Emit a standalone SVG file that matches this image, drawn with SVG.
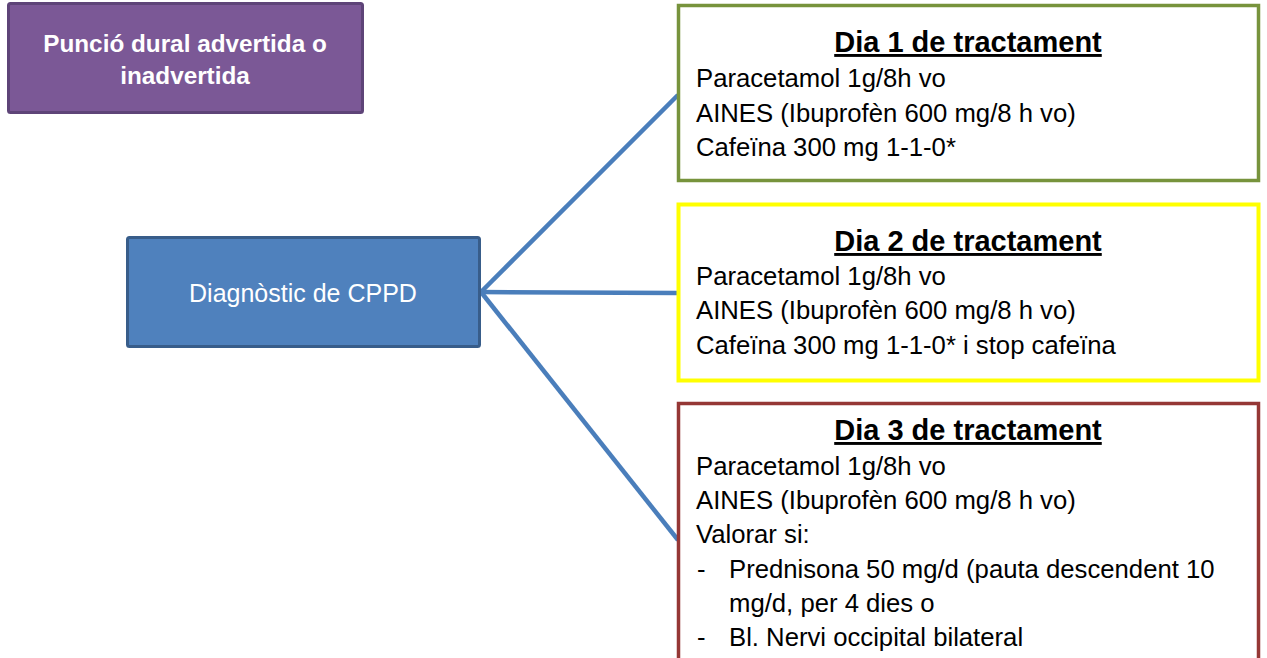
<svg xmlns="http://www.w3.org/2000/svg" width="1267" height="658" viewBox="0 0 1267 658">
  <style>
    .hdr { font-family: "Liberation Sans", Arial, sans-serif; font-weight: bold; fill: #ffffff; }
    .title { font-family: "Liberation Sans", Arial, sans-serif; font-weight: bold; font-size: 29px; fill: #000000; text-anchor: middle; text-decoration: underline; }
    .body { font-family: "Liberation Sans", Arial, sans-serif; font-size: 25.7px; fill: #000000; }
    .box { fill: #ffffff; }
    .link { stroke: #4A7EBB; stroke-width: 4.5; fill: none; }
  </style>

  <!-- connectors from the diagnosis box to each treatment day -->
  <g id="connectors">
    <line class="link" x1="481" y1="292" x2="678" y2="95"/>
    <line class="link" x1="481" y1="292" x2="678" y2="293"/>
    <line class="link" x1="481" y1="292" x2="678" y2="540"/>
  </g>

  <!-- start: dural puncture -->
  <g id="puncio">
    <rect x="8.5" y="3.5" width="354" height="109" rx="2" fill="#7B5896" stroke="#5E4478" stroke-width="3"/>
    <text class="hdr" font-size="24.3" x="185" y="52" text-anchor="middle">Punció dural advertida o</text>
    <text class="hdr" font-size="24.3" x="185" y="84" text-anchor="middle">inadvertida</text>
  </g>

  <!-- diagnosis -->
  <g id="diagnostic">
    <rect x="127.5" y="237.5" width="352" height="109" rx="2" fill="#4F81BD" stroke="#385D8A" stroke-width="3"/>
    <text x="303" y="302" text-anchor="middle" font-family="'Liberation Sans', Arial, sans-serif" font-size="25" fill="#ffffff">Diagnòstic de CPPD</text>
  </g>

  <!-- day 1 -->
  <g id="dia1">
    <rect class="box" x="678.5" y="5.5" width="580" height="175" stroke="#77933C" stroke-width="3.5"/>
    <text class="title" x="968" y="52">Dia 1 de tractament</text>
    <text class="body" x="696" y="87">Paracetamol 1g/8h vo</text>
    <text class="body" x="696" y="122">AINES (Ibuprofèn 600 mg/8 h vo)</text>
    <text class="body" x="696" y="156">Cafeïna 300 mg 1-1-0*</text>
  </g>

  <!-- day 2 -->
  <g id="dia2">
    <rect class="box" x="678.5" y="204.5" width="580" height="176" stroke="#FFFF00" stroke-width="4"/>
    <text class="title" x="968" y="251">Dia 2 de tractament</text>
    <text class="body" x="696" y="285">Paracetamol 1g/8h vo</text>
    <text class="body" x="696" y="319">AINES (Ibuprofèn 600 mg/8 h vo)</text>
    <text class="body" x="696" y="354">Cafeïna 300 mg 1-1-0* i stop cafeïna</text>
  </g>

  <!-- day 3 -->
  <g id="dia3">
    <rect class="box" x="678.5" y="403.5" width="580" height="262" stroke="#953735" stroke-width="3.5"/>
    <text class="title" x="968" y="440">Dia 3 de tractament</text>
    <text class="body" x="696" y="475">Paracetamol 1g/8h vo</text>
    <text class="body" x="696" y="509">AINES (Ibuprofèn 600 mg/8 h vo)</text>
    <text class="body" x="696" y="543">Valorar si:</text>
    <text class="body" x="697" y="578">-</text>
    <text class="body" x="729" y="578">Prednisona 50 mg/d (pauta descendent 10</text>
    <text class="body" x="729" y="612">mg/d, per 4 dies o</text>
    <text class="body" x="697" y="646">-</text>
    <text class="body" x="729" y="646">Bl. Nervi occipital bilateral</text>
  </g>
</svg>
